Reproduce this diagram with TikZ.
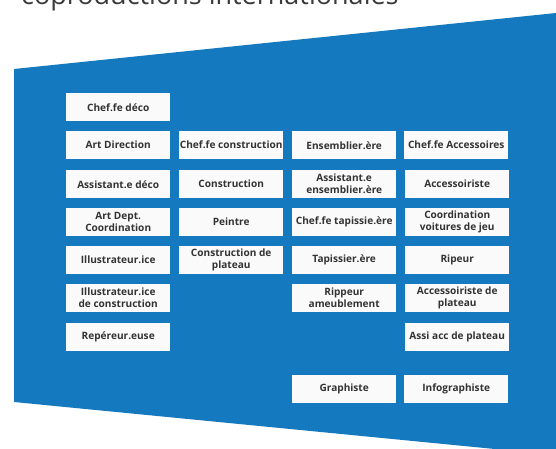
\documentclass[tikz,border=0pt]{standalone}
\usepackage{fontspec}
\setmainfont{Open Sans}
\newfontfamily\titlefont{Open Sans}
\definecolor{bluebg}{HTML}{1479BE}
\definecolor{boxfill}{HTML}{FAFAFA}
\definecolor{txt}{HTML}{333333}
\definecolor{ttl}{HTML}{3A3A3A}
\begin{document}
\begin{tikzpicture}[x=1pt,y=-1pt,
  job/.style={fill=boxfill,draw=none,minimum width=104pt,minimum height=28pt,
    inner sep=0pt,align=center,text=txt,font=\fontsize{10.1}{12}\selectfont\bfseries,anchor=north west}]
\useasboundingbox (0,0) rectangle (556,449);
\clip (0,0) rectangle (556,449);
\node[anchor=base west,inner sep=0pt,text=ttl,font=\titlefont\fontsize{27}{30}\selectfont] (title) at (21,4.5) {coproductions internationales};
\fill[bluebg] (14,69) -- (556,13) -- (556,455) -- (14,402) -- cycle;
% column 1
\node[job] (c1r1) at (66,93) {Chef.fe déco};
\node[job] (c1r2) at (66,131) {Art Direction};
\node[job] (c1r3) at (66,170) {Assistant.e déco};
\node[job] (c1r4) at (66,208) {Art Dept.\\Coordination};
\node[job] (c1r5) at (66,246) {Illustrateur.ice};
\node[job] (c1r6) at (66,284) {Illustrateur.ice\\de construction};
\node[job] (c1r7) at (66,323) {Repéreur.euse};
% column 2
\node[job] (c2r2) at (179,131) {Chef.fe construction};
\node[job] (c2r3) at (179,170) {Construction};
\node[job] (c2r4) at (179,208) {Peintre};
\node[job] (c2r5) at (179,246) {Construction de\\plateau};
% column 3
\node[job] (c3r2) at (292,131) {Ensemblier.ère};
\node[job] (c3r3) at (292,170) {Assistant.e\\ensemblier.ère};
\node[job] (c3r4) at (292,208) {Chef.fe tapissie.ère};
\node[job] (c3r5) at (292,246) {Tapissier.ère};
\node[job] (c3r6) at (292,284) {Rippeur\\ameublement};
\node[job] (c3r8) at (292,375) {Graphiste};
% column 4
\node[job] (c4r2) at (404,131) {Chef.fe Accessoires};
\node[job] (c4r3) at (405,170) {Accessoiriste};
\node[job] (c4r4) at (405,208) {Coordination\\voitures de jeu};
\node[job] (c4r5) at (405,246) {Ripeur};
\node[job] (c4r6) at (405,284) {Accessoiriste de\\plateau};
\node[job] (c4r7) at (405,323) {Assi acc de plateau};
\node[job] (c4r8) at (404,375) {Infographiste};
\end{tikzpicture}
\end{document}
